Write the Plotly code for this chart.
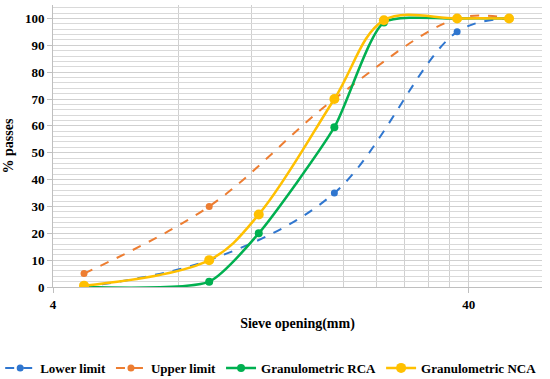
import plotly.graph_objects as go
import math

sieve_limits = [4.75, 9.5, 19, 37.5, 50]
lower_limit = [0, 10, 35, 95, 100]
upper_limit = [5, 30, 70, 100, 100]

sieve_agg = [4.75, 9.5, 12.5, 19, 25, 37.5, 50]
rca = [0, 2, 20, 59.5, 98.5, 100, 100]
nca = [0.5, 10, 27, 70, 99.3, 100, 100]

x_major = [4, 40]
x_minor = [8, 12, 16, 20, 24, 28, 32, 36, 60]

font_family = "Liberation Serif"

fig = go.Figure()
fig.add_trace(go.Scatter(x=sieve_limits, y=lower_limit, name="Lower limit",
                         mode="lines+markers", line=dict(color="#2F76CF", width=2, dash="dash", shape="spline", smoothing=1),
                         marker=dict(size=7, color="#2F76CF")))
fig.add_trace(go.Scatter(x=sieve_limits, y=upper_limit, name="Upper limit",
                         mode="lines+markers", line=dict(color="#ED7D31", width=2, dash="dash", shape="spline", smoothing=1),
                         marker=dict(size=7, color="#ED7D31")))
fig.add_trace(go.Scatter(x=sieve_agg, y=rca, name="Granulometric RCA",
                         mode="lines+markers", line=dict(color="#00B050", width=2.5, shape="spline", smoothing=0.6),
                         marker=dict(size=8, color="#00B050")))
fig.add_trace(go.Scatter(x=sieve_agg, y=nca, name="Granulometric NCA",
                         mode="lines+markers", line=dict(color="#FFC000", width=2.5, shape="spline", smoothing=1),
                         marker=dict(size=10, color="#FFC000")))

fig.update_layout(
    width=550, height=379,
    margin=dict(l=53, r=8, t=5, b=92, autoexpand=False),
    paper_bgcolor="white", plot_bgcolor="white",
    font=dict(family=font_family, color="black"),
    showlegend=True,
    legend=dict(orientation="h", x=-0.108, xanchor="left", y=-0.287, yanchor="middle",
                font=dict(size=13, family=font_family, color="black", weight="bold"),
                itemwidth=30, tracegroupgap=0),
)
fig.update_xaxes(
    type="log", range=[math.log10(4), math.log10(60)], automargin=False,
    tickvals=x_major, ticktext=[str(v) for v in x_major],
    ticks="outside", ticklen=5, tickcolor="#BFBFBF",
    showline=True, linecolor="#BFBFBF", linewidth=1,
    showgrid=True, gridcolor="#D0D0D0", gridwidth=1,
    minor=dict(tickvals=x_minor, showgrid=True, gridcolor="#D0D0D0", ticks=""),
    tickfont=dict(size=13, family=font_family, color="black", weight="bold"),
    title=dict(text="Sieve opening(mm)", standoff=7,
               font=dict(size=14, family=font_family, color="black", weight="bold")),
    zeroline=False,
)
fig.update_yaxes(
    range=[0, 105], tickvals=list(range(0, 101, 10)), automargin=False,
    ticks="outside", ticklen=5, tickcolor="#BFBFBF",
    showline=True, linecolor="#BFBFBF", linewidth=1,
    showgrid=True, gridcolor="#D0D0D0", gridwidth=1,
    minor=dict(dtick=2, showgrid=True, gridcolor="#D9D9D9", ticks=""),
    tickfont=dict(size=13, family=font_family, color="black", weight="bold"),
    title=dict(text="% passes", standoff=8,
               font=dict(size=14, family=font_family, color="black", weight="bold")),
    zeroline=False,
)
fig.write_html("out.html", config={"displayModeBar": False},
               post_script="document.body.style.margin='0';document.body.style.overflow='hidden';")
